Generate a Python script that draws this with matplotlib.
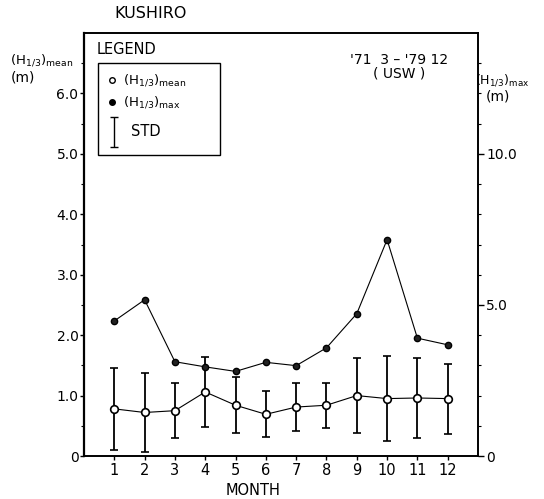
import numpy as np
import matplotlib.pyplot as plt
from matplotlib.patches import Rectangle

# Data (Kushiro, '71 3 - '79 12, USW)
months = [1, 2, 3, 4, 5, 6, 7, 8, 9, 10, 11, 12]
h_mean = [0.78, 0.72, 0.75, 1.06, 0.84, 0.69, 0.81, 0.84, 1.00, 0.95, 0.96, 0.95]
h_std = [0.68, 0.655, 0.46, 0.58, 0.46, 0.38, 0.395, 0.37, 0.625, 0.70, 0.665, 0.58]
h_max = [4.47, 5.17, 3.12, 2.95, 2.80, 3.10, 2.99, 3.58, 4.71, 7.16, 3.90, 3.68]

left_ticks = [0, 1, 2, 3, 4, 5, 6]
left_labels = ['0', '1.0', '2.0', '3.0', '4.0', '5.0', '6.0']
right_ticks = [0, 5, 10]
right_labels = ['0', '5.0', '10.0']

fig = plt.figure(figsize=(5.44, 4.99), dpi=100)
ax = fig.add_axes([84 / 544, 1 - 456 / 499, 394 / 544, 423 / 499])
ax2 = ax.twinx()

# mean with std bars (left axis)
ax.errorbar(months, h_mean, yerr=h_std, fmt='o', color='black', ecolor='black',
            elinewidth=1.3, capsize=3, capthick=1.0, markersize=5.5,
            mfc='white', mec='black', mew=1.2, linestyle='-', linewidth=0.8, zorder=3)

# max (right axis)
ax2.plot(months, h_max, 'o-', color='black', markersize=4.5, mfc='#222222',
         mec='black', linewidth=0.8)

ax.set_xlim(0, 13)
ax.set_ylim(0, 7)
ax2.set_ylim(0, 14)

ax.set_xticks(months)
ax.set_xticklabels([str(m) for m in months], fontsize=10.5)
ax.set_yticks(left_ticks)
ax.set_yticklabels(left_labels, fontsize=10)
ax.set_yticks(np.arange(0.5, 7, 1.0), minor=True)
ax.tick_params(axis='y', which='major', direction='out', length=3, width=1, pad=1)
ax.tick_params(axis='y', which='minor', direction='out', length=2, width=0.8)
ax.tick_params(axis='x', direction='out', length=3, width=1, pad=2)

ax2.set_yticks(right_ticks)
ax2.set_yticklabels(right_labels, fontsize=10)
ax2.set_yticks(np.arange(1, 14, 1), minor=True)
ax2.tick_params(axis='y', which='major', direction='out', length=4, width=1, pad=2)
ax2.tick_params(axis='y', which='minor', direction='out', length=2, width=0.8)

for a in (ax, ax2):
    for s in a.spines.values():
        s.set_linewidth(1.2)
ax.spines['left'].set_linewidth(1.6)

ax.set_xlabel('MONTH', fontsize=10.5)
ax.xaxis.set_label_coords(0.43, -0.064)

# titles and axis labels
fig.text(151 / 544, 1 - 14 / 499, 'KUSHIRO', fontsize=11.5, ha='center', va='center')
fig.text(42 / 544, 1 - 60 / 499, r'(H$_{1/3}$)$_{\mathrm{mean}}$', fontsize=9.5,
         ha='center', va='center')
fig.text(23 / 544, 1 - 78 / 499, '(m)', fontsize=10, ha='center', va='center')
fig.text(475 / 544, 1 - 80 / 499, r'(H$_{1/3}$)$_{\mathrm{max}}$', fontsize=9,
         ha='left', va='center')
fig.text(498 / 544, 1 - 97 / 499, '(m)', fontsize=10, ha='center', va='center')

ax.text(0.80, 0.935, "'71  3 – '79 12", transform=ax.transAxes, fontsize=10,
        ha='center', va='center')
ax.text(0.80, 0.905, '( USW )', transform=ax.transAxes, fontsize=10,
        ha='center', va='center')

# hand-drawn style legend
ax.text(0.033, 0.962, 'LEGEND', transform=ax.transAxes, fontsize=10.5,
        ha='left', va='center')
ax.add_patch(Rectangle((0.036, 0.712), 0.31, 0.217, transform=ax.transAxes,
                       fill=False, edgecolor='black', linewidth=1.0, zorder=4))
ax.plot([0.071], [0.889], 'o', transform=ax.transAxes, markersize=4,
        mfc='white', mec='black', mew=1.0, clip_on=False)
ax.text(0.10, 0.889, r'(H$_{1/3}$)$_{\mathrm{mean}}$', transform=ax.transAxes,
        fontsize=9.5, ha='left', va='center')
ax.plot([0.071], [0.837], 'o', transform=ax.transAxes, markersize=4,
        mfc='black', mec='black', clip_on=False)
ax.text(0.10, 0.837, r'(H$_{1/3}$)$_{\mathrm{max}}$', transform=ax.transAxes,
        fontsize=9.5, ha='left', va='center')
ax.errorbar([0.076], [0.7655], yerr=[0.0355], transform=ax.transAxes, fmt='none',
            ecolor='black', elinewidth=1.0, capsize=3, capthick=1.0)
ax.text(0.12, 0.768, 'STD', transform=ax.transAxes, fontsize=10.5,
        ha='left', va='center')

plt.savefig('out.png', dpi=100)
plt.close()
